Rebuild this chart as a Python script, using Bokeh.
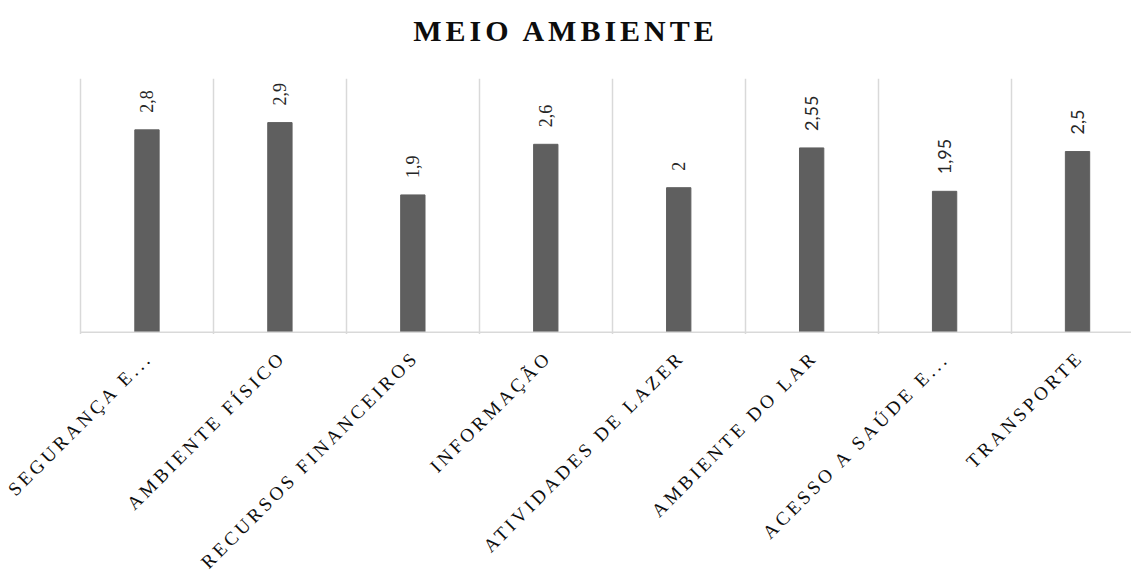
import math

from bokeh.core.properties import value
from bokeh.embed import file_html
from bokeh.layouts import column
from bokeh.models import (ColumnDataSource, Div, FixedTicker, InlineStyleSheet,
                          Range1d)
from bokeh.plotting import figure
from bokeh.resources import INLINE

# Domains of the "Meio Ambiente" questionnaire and their mean scores
categories = [
    "SEGURANÇA E...",
    "AMBIENTE FÍSICO",
    "RECURSOS FINANCEIROS",
    "INFORMAÇÃO",
    "ATIVIDADES DE LAZER",
    "AMBIENTE DO LAR",
    "ACESSO A SAÚDE E...",
    "TRANSPORTE",
]
scores = [2.8, 2.9, 1.9, 2.6, 2.0, 2.55, 1.95, 2.5]
score_labels = ["2,8", "2,9", "1,9", "2,6", "2", "2,55", "1,95", "2,5"]

positions = list(range(len(categories)))

WIDTH = 1131
PLOT_LEFT = 80            # px, left edge of the category area
LETTER_SPACING = 3.5      # px, spaced capitals of the category names
LABEL_GAP = 22            # px between the baseline and the end of a name
DIAG = math.cos(math.pi / 4)

first_edge = positions[0] - 0.5
last_edge = positions[-1] + 0.5
visible_end = 7.406
px_per_unit = (WIDTH - PLOT_LEFT) / (visible_end - first_edge)
# both strips span the whole page width so the long names are not cut
x_range = Range1d(first_edge - PLOT_LEFT / px_per_unit, visible_end)

serif_src = ColumnDataSource(dict(x=positions[:5], score=scores[:5],
                                  label=score_labels[:5]))
sans_src = ColumnDataSource(dict(x=positions[5:], score=scores[5:],
                                 label=score_labels[5:]))
bar_src = ColumnDataSource(dict(x=positions, score=scores))

# the browser adds letter spacing after Bokeh has right-aligned each name,
# so each name is pulled back along its own direction by the extra length
extra = [(len(c) - 1) * LETTER_SPACING for c in categories]
name_src = ColumnDataSource(dict(
    x=positions,
    name=categories,
    dx=[-e * DIAG for e in extra],
    dy=[LABEL_GAP + e * DIAG for e in extra],
))

title = Div(
    text="MEIO AMBIENTE", width=WIDTH, height=56,
    styles={"font-family": "Liberation Serif", "font-weight": "bold",
            "font-size": "30px", "letter-spacing": "4px", "color": "#0d0d0d",
            "text-align": "center", "width": f"{WIDTH}px",
            "padding-top": "10px", "margin": "0"},
)

# bars and value labels
p = figure(
    width=WIDTH, height=278,
    x_range=x_range,
    y_range=Range1d(-0.03, 3.51),
    output_backend="svg",
    toolbar_location=None,
    min_border_left=0, min_border_right=0,
    min_border_top=22, min_border_bottom=0,
)
p.outline_line_color = None
p.background_fill_color = "white"
p.border_fill_color = "white"
p.xaxis.visible = False
p.yaxis.visible = False
p.ygrid.visible = False

p.xgrid.ticker = FixedTicker(ticks=[i - 0.5 for i in range(len(categories) + 1)])
p.xgrid.grid_line_color = "#d9d9d9"
p.xgrid.grid_line_width = 1.5

p.vbar(x="x", top="score", width=0.183, source=bar_src,
       fill_color="#5f5f5f", line_color="#5f5f5f", line_width=1)

# category axis baseline
p.segment(x0=first_edge, y0=0, x1=last_edge, y1=0,
          line_color="#d9d9d9", line_width=1.5)

for src, font in ((serif_src, "Liberation Serif"), (sans_src, "Lato")):
    p.text(x="x", y="score", text="label", source=src,
           angle=math.pi / 2, text_align="left", text_baseline="middle",
           y_offset=-17, text_font=value(font),
           text_font_size="18px", text_color="#262626")

# category names, rotated 45 degrees under each bar
q = figure(
    width=WIDTH, height=250,
    x_range=x_range,
    y_range=Range1d(-250, 0),
    output_backend="svg",
    toolbar_location=None,
    min_border_left=0, min_border_right=0,
    min_border_top=0, min_border_bottom=0,
)
q.stylesheets = [InlineStyleSheet(
    css=f":host {{ letter-spacing: {LETTER_SPACING}px; }}")]
q.outline_line_color = None
q.background_fill_color = "white"
q.border_fill_color = "white"
q.axis.visible = False
q.grid.visible = False

q.text(x="x", y=0, text="name", source=name_src,
       x_offset="dx", y_offset="dy",
       angle=math.pi / 4, text_align="right", text_baseline="middle",
       text_font=value("Liberation Serif"), text_font_size="19px",
       text_color="#0d0d0d")

layout = column(title, p, q, spacing=0)
open("out.html", "w").write(file_html(layout, INLINE))
